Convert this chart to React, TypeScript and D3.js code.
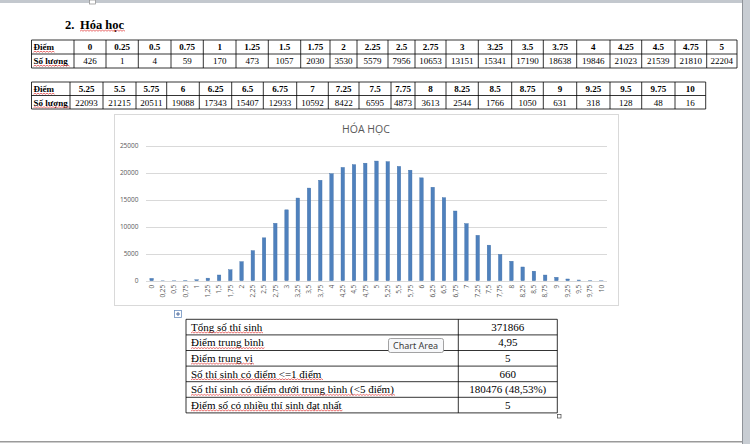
import React, { useLayoutEffect, useRef, useState } from "react";
import * as d3 from "d3";

// ---------- data ----------
const SCORES = [
  "0", "0.25", "0.5", "0.75", "1", "1.25", "1.5", "1.75", "2", "2.25", "2.5",
  "2.75", "3", "3.25", "3.5", "3.75", "4", "4.25", "4.5", "4.75", "5",
  "5.25", "5.5", "5.75", "6", "6.25", "6.5", "6.75", "7", "7.25", "7.5",
  "7.75", "8", "8.25", "8.5", "8.75", "9", "9.25", "9.5", "9.75", "10",
];
const COUNTS = [
  426, 1, 4, 59, 170, 473, 1057, 2030, 3530, 5579, 7956,
  10653, 13151, 15341, 17190, 18638, 19846, 21023, 21539, 21810, 22204,
  22093, 21215, 20511, 19088, 17343, 15407, 12933, 10592, 8422, 6595,
  4873, 3613, 2544, 1766, 1050, 631, 318, 128, 48, 16,
];
const X_LABELS = SCORES.map((s) => s.replace(".", ","));
const Y_TICKS = [0, 5000, 10000, 15000, 20000, 25000];
const CHART_TITLE = "HÓA HỌC";
const HEADING_NUM = "2.";
const HEADING = "Hóa học";
const ROW_HEAD = "Điểm";
const ROW_COUNT = "Số lượng";
const STAT_LABELS = [
  "Tổng số thí sinh",
  "Điểm trung bình",
  "Điểm trung vị",
  "Số thí sinh có điểm <=1 điểm",
  "Số thí sinh có điểm dưới trung bình (<5 điểm)",
  "Điểm số có nhiều thí sinh đạt nhất",
];
const STAT_VALUES = ["371866", "4,95", "5", "660", "180476 (48,53%)", "5"];
const TOOLTIP = "Chart Area";

// ---------- layout ----------
const SERIF = "'Liberation Serif', 'Times New Roman', serif";
const SANS = "'Open Sans', 'Liberation Sans', sans-serif";
const T1_EDGES = [31.5, 74, 106, 138.3, 171, 203.3, 236, 268.3, 300.7, 330, 357, 388, 415, 446, 478.3, 511.7, 543.3, 576.7, 610, 641.7, 675, 706.7, 737];
const T1_Y = [40, 54, 68];
const T2_EDGES = [31.5, 70, 103, 136, 166.7, 199.3, 231.7, 263.3, 296.7, 328.3, 359, 391, 415, 446, 478.3, 511.7, 543.3, 576.7, 610, 641.7, 675, 705.7];
const T2_Y = [82, 95.5, 109];

function wavyPath(x: number, y: number, w: number) {
  let d = `M${x},${y}`;
  let up = true;
  for (let cx = x; cx < x + w; cx += 1.5) {
    d += ` L${cx + 1.5},${y + (up ? -1 : 0)}`;
    up = !up;
  }
  return d;
}

function SpellText(props: {
  x: number; y: number; text: string; size: number; weight?: string;
  anchor?: string; color?: string; family?: string;
}) {
  const ref = useRef<SVGTextElement>(null);
  const [box, setBox] = useState<{ x: number; w: number } | null>(null);
  useLayoutEffect(() => {
    if (ref.current) {
      const b = ref.current.getBBox();
      setBox({ x: b.x, w: b.width });
    }
  }, [props.text]);
  return (
    <g>
      <text
        ref={ref}
        x={props.x}
        y={props.y}
        fontSize={props.size}
        fontWeight={props.weight || "normal"}
        textAnchor={(props.anchor as any) || "start"}
        fill={props.color || "#000"}
        fontFamily={props.family || SERIF}
      >
        {props.text}
      </text>
      {box && (
        <path d={wavyPath(box.x, props.y + 2.2, box.w)} stroke="#e03030" strokeWidth={0.7} fill="none" />
      )}
    </g>
  );
}

function ScoreTable(props: {
  edges: number[]; ys: number[]; scores: string[]; counts: number[];
}) {
  const { edges, ys, scores, counts } = props;
  const left = edges[0];
  const right = edges[edges.length - 1];
  return (
    <g>
      {ys.map((y, i) => (
        <line key={"h" + i} x1={left} x2={right} y1={y} y2={y} stroke="#000" strokeWidth={0.8} />
      ))}
      {edges.map((x, i) => (
        <line key={"v" + i} x1={x} x2={x} y1={ys[0]} y2={ys[2]} stroke="#000" strokeWidth={0.8} />
      ))}
      <SpellText x={left + 2} y={ys[0] + 10} text={ROW_HEAD} size={9} weight="bold" />
      <SpellText x={left + 2} y={ys[1] + 10} text={ROW_COUNT} size={9} weight="bold" />
      {scores.map((s, i) => {
        const cx = (edges[i + 1] + edges[i + 2]) / 2;
        return (
          <g key={s}>
            <text x={cx} y={ys[0] + 10} fontSize={9} fontWeight="bold" textAnchor="middle" fontFamily={SERIF}>
              {s}
            </text>
            <text x={cx} y={ys[1] + 10} fontSize={9} textAnchor="middle" fontFamily={SERIF}>
              {counts[i]}
            </text>
          </g>
        );
      })}
    </g>
  );
}

function Chart() {
  const box = { x: 114, y: 114, w: 504, h: 191 };
  const plot = { left: 146, right: 607, top: 146, bottom: 280.7 };
  const x = d3
    .scaleBand<string>()
    .domain(SCORES)
    .range([plot.left, plot.right])
    .paddingInner(0.69)
    .paddingOuter(0.345);
  const y = d3.scaleLinear().domain([0, 25000]).range([plot.bottom, plot.top]);
  return (
    <g>
      <rect x={box.x + 0.5} y={box.y + 0.5} width={box.w} height={box.h} fill="#fff" stroke="#d9d9d9" strokeWidth={1} />
      <text x={box.x + box.w / 2} y={133} textAnchor="middle" fontSize={10.5} fill="#595959" fontFamily={SANS}>
        {CHART_TITLE}
      </text>
      {Y_TICKS.map((t) => (
        <g key={t}>
          <line x1={plot.left} x2={plot.right} y1={Math.round(y(t)) + 0.5} y2={Math.round(y(t)) + 0.5} stroke="#d9d9d9" strokeWidth={1} />
          <text x={138.5} y={y(t) + 2.4} textAnchor="end" fontSize={6.5} fill="#595959" fontFamily={SANS}>
            {t}
          </text>
        </g>
      ))}
      {SCORES.map((s, i) => (
        <rect
          key={s}
          x={x(s)!}
          y={y(COUNTS[i])}
          width={x.bandwidth()}
          height={plot.bottom - y(COUNTS[i])}
          fill="#4f81bd"
          stroke="#3f6fa8"
          strokeWidth={0.4}
        />
      ))}
      {SCORES.map((s, i) => {
        const cx = x(s)! + x.bandwidth() / 2;
        return (
          <text
            key={"l" + s}
            transform={`translate(${cx + 2.3},${plot.bottom + 4}) rotate(-90)`}
            textAnchor="end"
            fontSize={6.5}
            fill="#595959"
            fontFamily={SANS}
          >
            {X_LABELS[i]}
          </text>
        );
      })}
    </g>
  );
}

function StatsTable() {
  const left = 186;
  const mid = 458.3;
  const right = 557.3;
  const top = 319.3;
  const rh = 15.6;
  const ys = d3.range(STAT_LABELS.length + 1).map((i) => top + i * rh);
  return (
    <g>
      {ys.map((yy, i) => (
        <line key={"h" + i} x1={left} x2={right} y1={yy} y2={yy} stroke="#000" strokeWidth={0.8} />
      ))}
      {[left, mid, right].map((xx, i) => (
        <line key={"v" + i} x1={xx} x2={xx} y1={ys[0]} y2={ys[ys.length - 1]} stroke="#000" strokeWidth={0.8} />
      ))}
      {STAT_LABELS.map((l, i) => (
        <SpellText key={l} x={left + 5} y={ys[i] + 11.5} text={l} size={11} />
      ))}
      {STAT_VALUES.map((v, i) => (
        <text key={i} x={(mid + right) / 2} y={ys[i] + 11.5} fontSize={11} textAnchor="middle" fontFamily={SERIF}>
          {v}
        </text>
      ))}
      {/* move handle */}
      <rect x={174.5} y={310.5} width={7} height={7} fill="#fff" stroke="#6d8fbf" strokeWidth={0.8} />
      <path d="M178,312 L178,316 M176,314 L180,314" stroke="#2b4f8c" strokeWidth={0.8} />
      {/* resize handle */}
      <rect x={557.5} y={414.5} width={3.5} height={3.5} fill="#fff" stroke="#444" strokeWidth={0.7} />
    </g>
  );
}

export default function App() {
  return (
    <svg
      width={750}
      height={444}
      style={{ position: "absolute", left: 0, top: 0, background: "#fff" }}
      fontFamily={SERIF}
    >
      <rect x={0} y={0} width={750} height={444} fill="#fff" />
      {/* page chrome */}
      <rect x={0} y={0} width={750} height={3} fill="#c3c8ce" />
      <rect x={89.5} y={0} width={6} height={4} fill="#fff" stroke="#8a8a8a" strokeWidth={0.7} />
      <rect x={742} y={0} width={8} height={444} fill="#c8cdd3" />
      <line x1={742.5} x2={742.5} y1={0} y2={444} stroke="#8f9399" strokeWidth={1} />
      <rect x={0} y={441} width={742} height={1.5} fill="#9a9a9a" />

      {/* heading */}
      <text x={65} y={29} fontSize={12.5} fontWeight="bold" fontFamily={SERIF}>
        {HEADING_NUM}
      </text>
      <SpellText x={80} y={29} text={HEADING} size={12.5} weight="bold" />

      <ScoreTable edges={T1_EDGES} ys={T1_Y} scores={SCORES.slice(0, 21)} counts={COUNTS.slice(0, 21)} />
      <ScoreTable edges={T2_EDGES} ys={T2_Y} scores={SCORES.slice(21)} counts={COUNTS.slice(21)} />

      <Chart />
      <StatsTable />

      {/* tooltip */}
      <rect x={388.5} y={338.5} width={55} height={14} rx={2} fill="#f7f8fa" stroke="#8c8c8c" strokeWidth={0.8} />
      <text x={393} y={348.5} fontSize={9} fill="#3c3c3c" fontFamily="'Noto Sans', sans-serif">
        {TOOLTIP}
      </text>
    </svg>
  );
}
